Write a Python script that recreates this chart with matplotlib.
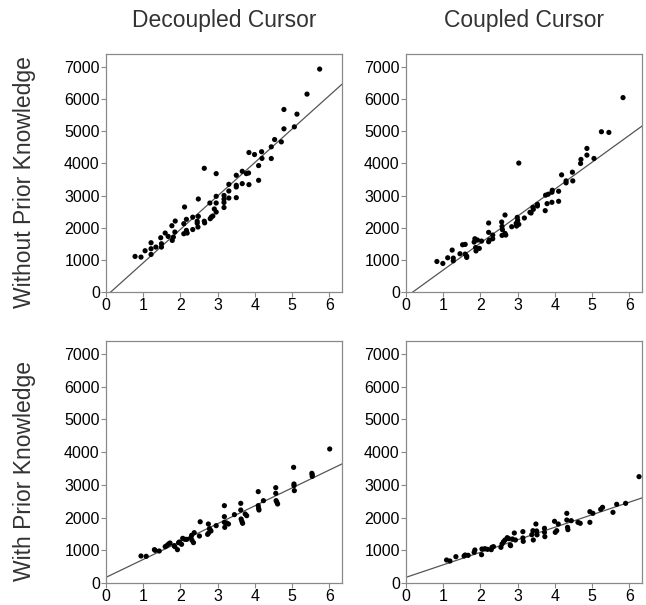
import numpy as np
import matplotlib
matplotlib.use("Agg")
import matplotlib.pyplot as plt

plt.rcParams['font.family'] = ['Liberation Sans', 'DejaVu Sans']

# ---------------- data ----------------
col_titles = ["Decoupled Cursor", "Coupled Cursor"]
row_titles = ["Without Prior Knowledge", "With Prior Knowledge"]
x_ticks = [0, 1, 2, 3, 4, 5, 6]
y_ticks = [0, 1000, 2000, 3000, 4000, 5000, 6000, 7000]

# Without prior knowledge, decoupled cursor
wo_dec_x = [0.78, 0.94, 1.05, 1.21, 1.21, 1.21, 1.34, 1.47, 1.49, 1.49, 1.59, 1.67, 1.77, 1.78, 1.81, 1.85,
            1.86, 2.11, 2.09, 2.09, 2.16, 2.16, 2.18, 2.33, 2.33, 2.45, 2.45, 2.48, 2.48, 2.47, 2.64, 2.64,
            2.65, 2.79, 2.80, 2.83, 2.87, 2.91, 2.96, 2.96, 2.96, 2.96, 3.17, 3.17, 3.17, 3.17, 3.30, 3.30,
            3.30, 3.50, 3.50, 3.50, 3.50, 3.66, 3.66, 3.77, 3.83, 3.84, 3.84, 3.99, 4.10, 4.10, 4.18, 4.19,
            4.44, 4.44, 4.53, 4.71, 4.78, 4.78, 5.06, 5.13, 5.40, 5.74]
wo_dec_y = [1106, 1085, 1283, 1532, 1345, 1168, 1397, 1687, 1500, 1397, 1833, 1729, 2061, 1604, 1708, 1864,
            2206, 2643, 2124, 1812, 2259, 1916, 1833, 2326, 1942, 2201, 2139, 2892, 2352, 2020, 3846, 2201,
            2149, 2767, 2279, 2331, 2363, 2581, 3680, 2975, 2767, 2487, 3001, 2887, 2783, 2627, 3348, 3140,
            2922, 3629, 3317, 3265, 2933, 3753, 3369, 3681, 3701, 4337, 3338, 4274, 3930, 3473, 4362, 4154,
            4513, 4150, 4740, 4668, 5675, 5073, 5135, 5530, 6153, 6931]
wo_dec_line = (1040.0, -132.0)   # slope, intercept

# Without prior knowledge, coupled cursor
wo_cou_x = [0.83, 0.99, 1.12, 1.24, 1.27, 1.27, 1.45, 1.52, 1.59, 1.59, 1.63, 1.63, 1.83, 1.85, 1.87, 1.88,
            1.92, 1.97, 2.03, 2.22, 2.22, 2.22, 2.24, 2.33, 2.33, 2.57, 2.58, 2.59, 2.58, 2.66, 2.66, 2.68,
            2.84, 2.96, 2.97, 2.99, 3.00, 3.03, 3.03, 3.18, 3.33, 3.36, 3.41, 3.42, 3.53, 3.53, 3.74, 3.75,
            3.79, 3.82, 3.92, 3.92, 3.93, 4.10, 4.10, 4.18, 4.30, 4.30, 4.47, 4.48, 4.69, 4.70, 4.86, 4.86,
            5.05, 5.25, 5.45, 5.83]
wo_cou_y = [949, 887, 1064, 1303, 1054, 970, 1189, 1469, 1480, 1179, 1116, 1075, 1552, 1656, 1381, 1277,
            1615, 1355, 1583, 2145, 1854, 1563, 1615, 1770, 1656, 2176, 2041, 1937, 1760, 2394, 1822, 1770,
            2030, 2134, 2051, 2321, 2228, 4008, 2103, 2301, 2477, 2456, 2633, 2570, 2726, 2674, 2529, 3010,
            2747, 3040, 2789, 3102, 3164, 3132, 2820, 3642, 3455, 3393, 3725, 3455, 3996, 4121, 4256, 4464,
            4152, 4983, 4962, 6044]
wo_cou_line = (838.0, -154.0)

# With prior knowledge, decoupled cursor
w_dec_x = [0.94, 1.08, 1.30, 1.32, 1.43, 1.59, 1.63, 1.68, 1.72, 1.83, 1.85, 1.92, 1.95, 1.97, 2.03, 2.06,
           2.12, 2.17, 2.28, 2.30, 2.31, 2.35, 2.37, 2.51, 2.53, 2.73, 2.75, 2.75, 2.78, 2.80, 2.82, 2.96,
           3.18, 3.18, 3.18, 3.19, 3.24, 3.29, 3.45, 3.62, 3.62, 3.63, 3.65, 3.67, 3.74, 3.78, 4.09, 4.09,
           4.10, 4.11, 4.23, 4.56, 4.56, 4.57, 4.59, 4.61, 5.04, 5.05, 5.05, 5.06, 5.53, 5.54, 5.54, 6.01]
w_dec_y = [826, 816, 1019, 999, 978, 1111, 1142, 1193, 1223, 1142, 1111, 1019, 1233, 1254, 1183, 1366,
           1335, 1335, 1386, 1458, 1305, 1234, 1539, 1437, 1872, 1488, 1804, 1519, 1661, 1621, 1590, 1753,
           2365, 2029, 1855, 1702, 1835, 1804, 2090, 2436, 2232, 1957, 1886, 1825, 2110, 2059, 2794, 2365,
           2283, 2232, 2518, 2915, 2742, 2518, 2467, 2416, 3537, 3028, 2977, 2824, 3354, 3313, 3262, 4098]
w_dec_line = (547.0, 173.0)

# With prior knowledge, coupled cursor
w_cou_x = [1.09, 1.18, 1.34, 1.56, 1.59, 1.67, 1.83, 1.85, 2.03, 2.04, 2.12, 2.19, 2.29, 2.31, 2.35, 2.55,
           2.58, 2.62, 2.66, 2.72, 2.76, 2.80, 2.81, 2.86, 2.91, 2.94, 3.14, 3.14, 3.15, 3.38, 3.41, 3.42,
           3.49, 3.51, 3.52, 3.72, 3.72, 3.73, 3.99, 4.01, 4.05, 4.09, 4.32, 4.32, 4.34, 4.35, 4.44, 4.62,
           4.68, 4.94, 4.94, 5.02, 5.23, 5.28, 5.56, 5.66, 5.90, 6.26]
w_cou_y = [703, 673, 805, 826, 856, 846, 937, 1009, 866, 1040, 1050, 1029, 1019, 1091, 1111, 1091,
           1193, 1264, 1315, 1386, 1356, 1162, 1142, 1346, 1529, 1315, 1376, 1570, 1274, 1478, 1600, 1315,
           1804, 1591, 1473, 1672, 1549, 1417, 1886, 1549, 1600, 1804, 2130, 1926, 1702, 1631, 1906, 1855,
           1825, 1855, 2181, 2130, 2253, 2314, 2161, 2406, 2436, 3252]
w_cou_line = (383.0, 173.0)

panels = [
    [(wo_dec_x, wo_dec_y, wo_dec_line), (wo_cou_x, wo_cou_y, wo_cou_line)],
    [(w_dec_x, w_dec_y, w_dec_line), (w_cou_x, w_cou_y, w_cou_line)],
]

# ---------------- figure ----------------
W, H = 646, 605
fig = plt.figure(figsize=(W / 100, H / 100), dpi=100)

col_left = [106, 406]
col_width = 236
row_top = [54, 341]
row_height = [238, 242]

spine_col = "#8a8a8a"
for r in range(2):
    for c in range(2):
        left = col_left[c] / W
        bottom = (H - row_top[r] - row_height[r]) / H
        ax = fig.add_axes([left, bottom, col_width / W, row_height[r] / H])
        xs, ys, (slope, icpt) = panels[r][c]
        ax.scatter(xs, ys, s=14, color="black", edgecolors="none", zorder=3)
        lx = np.array([0.0, 6.34])
        ly = slope * lx + icpt
        ax.plot(lx, ly, color="#555555", lw=0.9, zorder=2)
        ax.set_xlim(0, 6.34)
        ax.set_ylim(0, 7400)
        ax.set_xticks(x_ticks)
        ax.set_yticks(y_ticks)
        ax.set_xticklabels([str(t) for t in x_ticks])
        ax.set_yticklabels([str(t) for t in y_ticks])
        for sp in ax.spines.values():
            sp.set_color(spine_col)
            sp.set_linewidth(0.9)
        ax.tick_params(direction="out", length=3.5, width=0.8, color=spine_col,
                       labelsize=11.5, labelcolor="black", pad=1)

for c in range(2):
    cx = (col_left[c] + col_width / 2) / W
    fig.text(cx, 1 - 21 / H, col_titles[c], ha="center", va="center",
             fontsize=16.5, color="#333333")
for r in range(2):
    cy = 1 - (row_top[r] + row_height[r] / 2 + 9) / H
    fig.text(25 / W, cy, row_titles[r], ha="center", va="center", rotation=90,
             fontsize=16.5, color="#333333")

fig.savefig("out.png", dpi=100)
